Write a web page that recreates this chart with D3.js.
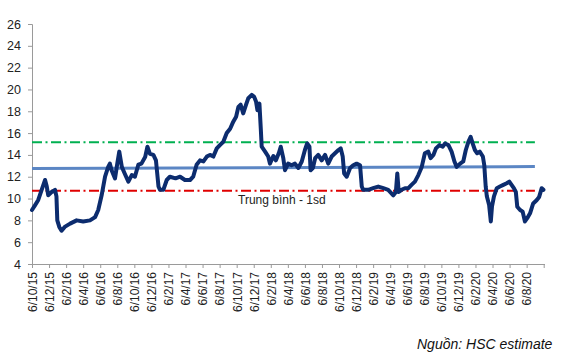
<!DOCTYPE html>
<html><head><meta charset="utf-8">
<script src="https://cdn.jsdelivr.net/npm/d3@7"></script>
<style>body{margin:0;background:#fff} svg{display:block}</style>
</head><body>
<svg id="c" width="577" height="356"></svg>
<script>
const tickLabels = ["6/10/15","6/12/15","6/2/16","6/4/16","6/6/16","6/8/16","6/10/16","6/12/16",
  "6/2/17","6/4/17","6/6/17","6/8/17","6/10/17","6/12/17","6/2/18","6/4/18","6/6/18","6/8/18",
  "6/10/18","6/12/18","6/2/19","6/4/19","6/6/19","6/8/19","6/10/19","6/12/19","6/2/20","6/4/20",
  "6/6/20","6/8/20"];
const axisEnd = "2020-10-06";
const yTicks = [4,6,8,10,12,14,16,18,20,22,24,26];

const dates = [
"2015-10-06","2015-10-17","2015-10-28","2015-11-10","2015-11-22","2015-11-28","2015-12-03","2015-12-15","2015-12-27","2016-01-02",
"2016-01-05","2016-01-12","2016-01-20","2016-02-01","2016-02-20","2016-03-13","2016-04-06","2016-04-30","2016-05-18","2016-05-29",
"2016-06-11","2016-06-23","2016-07-04","2016-07-10","2016-07-16","2016-07-28","2016-08-06","2016-08-13","2016-08-22","2016-09-02",
"2016-09-15","2016-09-27","2016-10-08","2016-10-20","2016-11-01","2016-11-14","2016-11-22","2016-12-01","2016-12-13","2016-12-22",
"2016-12-31","2017-01-06","2017-01-18","2017-01-30","2017-02-11","2017-03-01","2017-03-17","2017-04-04","2017-04-22","2017-05-03",
"2017-05-15","2017-05-27","2017-06-09","2017-06-21","2017-07-02","2017-07-14","2017-07-26","2017-08-07","2017-08-19","2017-08-31",
"2017-09-13","2017-09-24","2017-10-04","2017-10-12","2017-10-20","2017-10-29","2017-11-09","2017-11-17","2017-11-29","2017-12-07",
"2017-12-14","2017-12-19","2017-12-26","2017-12-31","2018-01-04","2018-01-16","2018-01-27","2018-02-03","2018-02-15","2018-02-24",
"2018-03-04","2018-03-11","2018-03-20","2018-03-26","2018-04-07","2018-04-19","2018-05-01","2018-05-13","2018-05-25","2018-06-06",
"2018-06-14","2018-06-22","2018-06-26","2018-07-04","2018-07-12","2018-07-23","2018-08-05","2018-08-17","2018-08-28","2018-09-10",
"2018-09-22","2018-10-04","2018-10-12","2018-10-19","2018-10-24","2018-11-03","2018-11-15","2018-11-26","2018-12-08","2018-12-20",
"2018-12-26","2018-12-31","2019-01-19","2019-02-06","2019-02-24","2019-03-12","2019-03-29","2019-04-17","2019-04-26","2019-05-01",
"2019-05-06","2019-05-16","2019-05-28","2019-06-10","2019-06-21","2019-07-03","2019-07-15","2019-07-27","2019-08-08","2019-08-20",
"2019-08-28","2019-09-08","2019-09-17","2019-09-29","2019-10-11","2019-10-19","2019-10-31","2019-11-12","2019-11-22","2019-11-30",
"2019-12-12","2019-12-23","2020-01-02","2020-01-11","2020-01-19","2020-01-26","2020-02-04","2020-02-12","2020-02-21","2020-03-02",
"2020-03-07","2020-03-12","2020-03-16","2020-03-24","2020-03-30","2020-04-04","2020-04-11","2020-04-21","2020-05-02","2020-05-14",
"2020-05-26","2020-06-05","2020-06-13","2020-06-21","2020-06-28","2020-07-03","2020-07-13","2020-07-22","2020-07-30","2020-08-08",
"2020-08-18","2020-08-29","2020-09-11","2020-09-20","2020-09-29","2020-10-05"];

const values = [
8.95,9.4,9.87,10.8,11.7,11.1,10.3,10.6,10.8,10.2,
8.0,7.4,7.05,7.4,7.7,8.0,7.9,8.0,8.3,8.95,
10.3,12.0,12.9,13.2,12.6,11.85,13.2,14.3,12.9,12.3,
11.55,12.15,12.0,13.1,13.2,13.8,14.75,14.1,14.0,13.5,
11.1,10.8,10.8,11.7,12.0,11.85,12.0,11.7,11.7,12.0,
13.1,13.5,13.4,13.85,14.0,13.85,14.6,14.9,15.2,16.0,
16.4,17.05,17.5,18.4,18.6,17.8,18.6,19.2,19.5,19.35,
18.9,18.1,18.7,16.3,14.75,14.3,13.85,13.2,13.9,13.5,
14.15,14.75,13.7,12.6,13.2,13.05,13.2,12.8,13.4,14.45,
15.05,14.75,12.6,12.8,13.7,14.0,13.5,14.0,13.2,13.85,
14.15,14.45,14.6,13.85,12.3,12.0,12.8,13.05,13.2,13.05,
11.1,10.8,10.8,10.95,11.1,10.95,10.8,10.3,10.6,12.3,
10.6,10.8,10.95,10.95,11.25,11.55,12.15,12.9,14.15,14.3,
13.7,14.0,14.6,14.9,14.75,15.05,14.9,14.3,13.4,12.9,
13.2,13.4,14.45,15.2,15.65,15.05,14.45,14.15,14.3,13.85,
13.05,11.1,10.2,9.4,7.9,9.25,10.2,10.95,11.1,11.25,
11.4,11.55,11.25,10.95,10.6,9.25,8.95,8.8,7.9,8.2,
8.65,9.55,9.85,10.15,10.95,10.8];

const refDates = ["2015-10-06","2020-09-05"];
const meanValues = [12.75,12.93];
const upperValues = [15.15,15.15];
const lowerValues = [10.72,10.72];
const lowerLabel = "Trung bình - 1sd";
const sourceText = "Nguồn: HSC estimate";

// month-based position (Excel-style date axis, equal month widths)
function monthNum(s){
  const p = s.split("-").map(Number);
  return (p[0]-2015)*12 + (p[1]-10) + (p[2]-6)/30;
}
const parseLabel = l => { const p = l.split("/").map(Number); return (2000+p[2]-2015)*12 + (p[1]-10) + (p[0]-6)/30; };

const svg = d3.select("#c");
const font = "'Liberation Sans', Arial, sans-serif";
const x = d3.scaleLinear().domain([0, monthNum(axisEnd)]).range([32, 543.7]);
const y = d3.scaleLinear().domain([4,26]).range([264,24]);

const tickPos = tickLabels.map(parseLabel).concat([monthNum(axisEnd)]);

// y axis
const ya = svg.append("g").attr("transform","translate(32,0)")
  .call(d3.axisLeft(y).tickValues(yTicks).tickSize(4).tickPadding(7).tickFormat(d3.format("d")));
ya.select(".domain").attr("stroke","#9a9a9a");
ya.selectAll(".tick line").attr("stroke","#9a9a9a");
ya.selectAll("text").attr("fill","#222").style("font-family",font).style("font-size","12.5px");

// x axis
const xa = svg.append("g").attr("transform","translate(0,264)")
  .call(d3.axisBottom(x).tickValues(tickPos).tickSize(4).tickSizeOuter(0)
    .tickFormat((d,i) => i < tickLabels.length ? tickLabels[i] : ""));
xa.select(".domain").attr("stroke","#9a9a9a").attr("d","M32,0.5H545");
xa.selectAll(".tick line").attr("stroke","#9a9a9a");
xa.selectAll("text").attr("fill","#222").style("font-family",font).style("font-size","12px")
  .attr("text-anchor","end").attr("transform","rotate(-90)")
  .attr("x",-8).attr("y",0).attr("dy","0.36em");

const line = d3.line().x(d => x(monthNum(d[0]))).y(d => y(d[1]));

// reference lines
svg.append("path").datum(refDates.map((d,i)=>[d,upperValues[i]])).attr("d",line)
  .attr("fill","none").attr("stroke","#00b050").attr("stroke-width",2).attr("stroke-dasharray","10,3.5,2,3.5");
svg.append("path").datum(refDates.map((d,i)=>[d,lowerValues[i]])).attr("d",line)
  .attr("fill","none").attr("stroke","#e00000").attr("stroke-width",2).attr("stroke-dasharray","10,3.5,2,3.5");
svg.append("path").datum(refDates.map((d,i)=>[d,meanValues[i]])).attr("d",line)
  .attr("fill","none").attr("stroke","#5b86c4").attr("stroke-width",3);

// main series
svg.append("path").datum(dates.map((d,i)=>[d,values[i]])).attr("d",line)
  .attr("fill","none").attr("stroke","#0c2c6e").attr("stroke-width",4)
  .attr("stroke-linejoin","round").attr("stroke-linecap","round");

svg.append("text").attr("x",238).attr("y",204).text(lowerLabel)
  .attr("fill","#222").style("font-family",font).style("font-size","12px");

svg.append("text").attr("x",417).attr("y",349).text(sourceText)
  .attr("fill","#111").style("font-family",font).style("font-size","14px").style("font-style","italic");
</script>
</body></html>
